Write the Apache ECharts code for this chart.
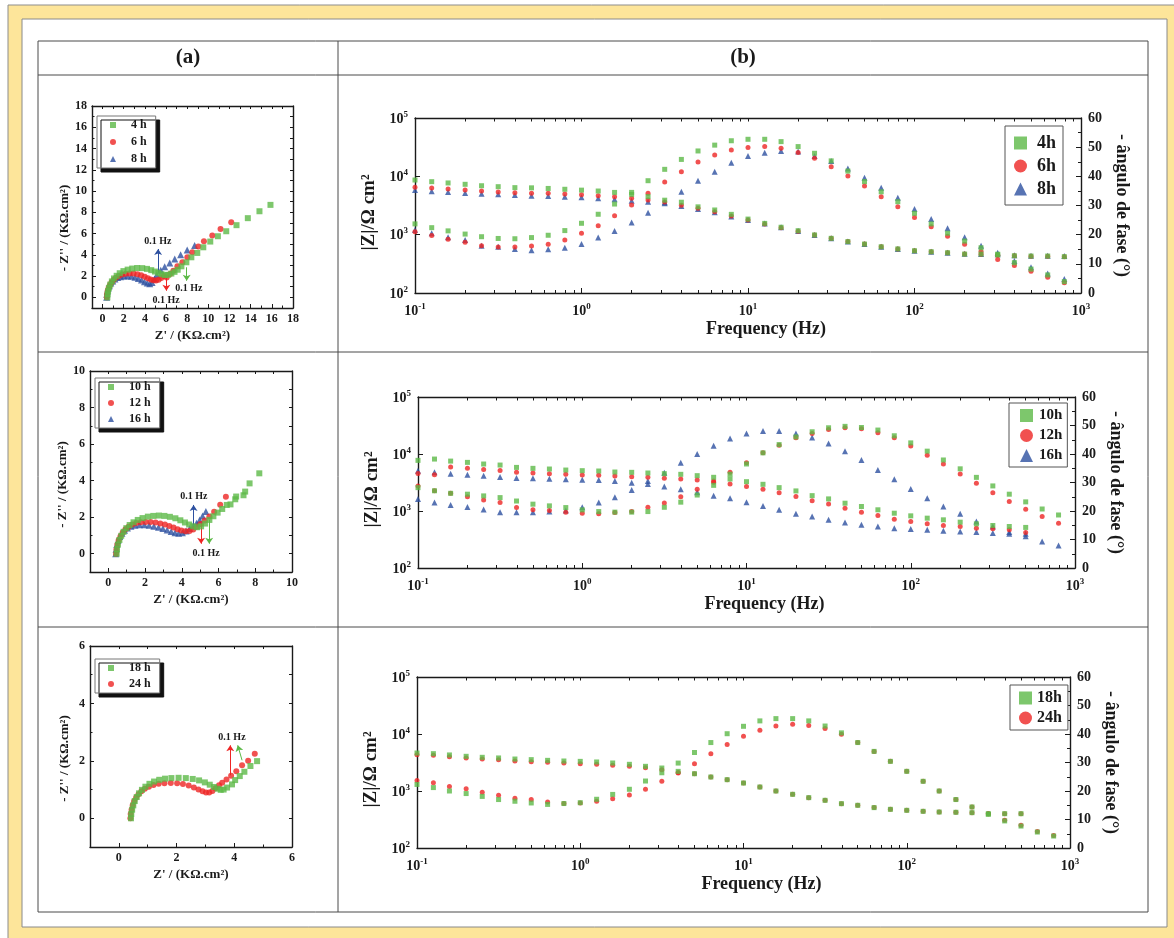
<!DOCTYPE html>
<html>
<head>
<meta charset="utf-8">
<title>EIS - Nyquist e Bode</title>
<script src="https://cdn.jsdelivr.net/npm/echarts@6/dist/echarts.min.js"></script>
<style>
html, body { margin: 0; padding: 0; background: #fff; }
#chart { width: 1174px; height: 938px; }
</style>
</head>
<body>
<div id="chart"></div>
<script>
// ---- data ----
const freqHz = [0.1, 0.126, 0.158, 0.2, 0.251, 0.316, 0.398, 0.501, 0.631, 0.794,
  1, 1.26, 1.58, 2, 2.51, 3.16, 3.98, 5.01, 6.31, 7.94,
  10, 12.6, 15.8, 20, 25.1, 31.6, 39.8, 50.1, 63.1, 79.4,
  100, 126, 158, 200, 251, 316, 398, 501, 631, 794]

// bode (b) row 1
const zMod4h = [8650, 8100, 7700, 7300, 6900, 6650, 6400, 6350, 6200, 6000, 5800, 5600, 5300, 4900, 4500, 3900, 3600, 3000, 2650, 2230, 1850, 1560, 1340, 1170, 990, 865, 760, 690, 620, 570, 530, 510, 490, 465, 465, 450, 435, 430, 430, 420]
const phase4h = [23.7, 22.4, 21.3, 20.2, 19.3, 18.7, 18.6, 19.0, 19.8, 21.4, 23.9, 27.0, 30.5, 34.5, 38.5, 42.4, 45.8, 48.7, 50.7, 52.2, 52.7, 52.7, 51.9, 50.2, 47.9, 45.3, 41.8, 38.2, 34.7, 31.3, 27.3, 23.7, 20.5, 17.8, 15.5, 13.3, 10.4, 8.2, 6.2, 3.9]
const zMod6h = [6480, 6310, 6070, 5830, 5610, 5390, 5250, 5110, 5110, 4980, 4850, 4660, 4480, 4200, 3930, 3630, 3180, 2830, 2480, 2090, 1780, 1520, 1320, 1140, 990, 865, 760, 690, 620, 570, 530, 510, 490, 465, 460, 445, 436, 425, 425, 420]
const phase6h = [21.0, 19.7, 18.4, 17.4, 16.2, 15.8, 15.8, 16.1, 16.7, 18.2, 20.5, 23.1, 26.5, 30.2, 34.2, 38.1, 41.6, 44.9, 47.3, 49.0, 49.9, 50.2, 49.6, 48.2, 46.2, 43.3, 40.1, 36.7, 33.0, 29.6, 25.9, 22.7, 19.5, 16.7, 14.2, 11.5, 9.4, 7.5, 5.4, 3.5]
const zMod8h = [5830, 5530, 5390, 5180, 5040, 4910, 4790, 4660, 4600, 4480, 4370, 4200, 4030, 3830, 3680, 3450, 3100, 2750, 2420, 2040, 1780, 1560, 1340, 1160, 990, 865, 760, 690, 620, 570, 530, 510, 490, 470, 465, 460, 445, 436, 436, 430]
const phase8h = [21.6, 20.5, 19.1, 18.2, 16.2, 15.9, 15.1, 14.7, 15.0, 15.5, 16.8, 19.0, 21.3, 24.2, 27.5, 31.1, 34.7, 38.5, 41.6, 44.7, 47.0, 48.1, 48.7, 48.5, 47.0, 45.3, 42.7, 39.5, 36.1, 32.7, 28.8, 25.4, 22.2, 19.1, 16.2, 13.8, 11.0, 8.8, 6.7, 4.8]

// bode (b) row 2
const zMod10h = [7730, 8150, 7510, 7130, 6670, 6400, 5820, 5600, 5450, 5230, 5100, 5030, 4830, 4770, 4640, 4520, 4400, 4170, 3900, 3640, 3270, 2940, 2570, 2250, 1860, 1630, 1370, 1200, 1050, 915, 822, 749, 700, 637, 596, 557, 535, 515, null, null]
const phase10h = [28.2, 27.1, 26.2, 25.9, 25.3, 24.7, 23.5, 22.4, 21.8, 21.2, 20.4, 19.8, 19.6, 19.6, 19.8, 21.3, 23.1, 25.6, 29.0, 32.9, 36.5, 40.4, 43.3, 46.0, 47.8, 49.2, 49.7, 49.3, 48.4, 46.4, 43.9, 41.0, 37.9, 34.8, 31.8, 28.8, 25.9, 23.2, 20.7, 18.6]
const zMod12h = [4570, 4330, 5900, 5600, 5370, 5160, 4770, 4640, 4520, 4400, 4280, 4220, 4110, 4000, 3900, 3740, 3640, 3500, 3190, 2980, 2680, 2400, 2100, 1790, 1520, 1330, 1120, 953, 833, 719, 655, 596, 557, 535, 500, 487, 468, 421, null, null]
const phase12h = [28.8, 27.1, 26.2, 25.0, 23.9, 23.0, 21.2, 20.4, 20.2, 19.6, 19.2, 19.0, 19.5, 19.8, 21.3, 22.8, 25.0, 27.6, 30.5, 33.6, 36.9, 40.4, 43.1, 45.7, 47.2, 48.6, 49.2, 48.9, 47.5, 45.7, 42.8, 39.6, 36.5, 33.0, 29.7, 26.4, 23.3, 20.6, 18.1, 15.7]
const zMod16h = [5100, 4770, 4520, 4340, 4170, 3950, 3790, 3740, 3690, 3590, 3550, 3500, 3360, 3140, 2980, 2680, 2400, 2130, 1860, 1670, 1430, 1230, 1050, 891, 800, 700, 629, 572, 535, 500, 481, 468, 450, 438, 426, 410, 398, 398, null, null]
const phase16h = [24.2, 23.0, 22.1, 21.4, 20.5, 19.6, 19.6, 19.6, 19.8, 20.2, 21.3, 23.0, 24.8, 27.4, 30.5, 33.4, 36.9, 40.0, 42.9, 45.4, 47.2, 48.1, 48.1, 47.2, 45.8, 43.7, 41.0, 37.9, 34.4, 31.1, 27.7, 24.5, 21.6, 19.0, 16.3, 14.6, 12.6, 11.1, 9.3, 7.9]

// bode (b) row 3
const zMod18h = [4640, 4520, 4290, 4060, 3900, 3800, 3640, 3550, 3450, 3360, 3310, 3230, 3100, 2940, 2710, 2530, 2210, 2010, 1760, 1580, 1380, 1175, 1000, 875, 765, 686, 600, 561, 511, 477, 458, 440, 428, 423, 417, 400, 400, 400, null, null]
const phase18h = [22.3, 21.2, 20.0, 19.1, 18.1, 17.0, 16.4, 15.8, 15.3, 15.6, 15.9, 17.1, 18.8, 20.6, 23.5, 26.4, 29.8, 33.5, 37.0, 40.1, 42.7, 44.6, 45.4, 45.4, 44.6, 42.8, 40.4, 37.0, 33.9, 30.4, 26.9, 23.4, 20.0, 17.0, 14.4, 11.8, 9.5, 7.7, 5.6, 4.2]
const zMod24h = [4340, 4220, 4000, 3800, 3640, 3550, 3360, 3270, 3190, 3100, 3020, 2940, 2820, 2710, 2570, 2370, 2120, 2010, 1760, 1580, 1380, 1175, 1000, 875, 765, 686, 600, 561, 511, 477, 458, 440, 428, 423, 417, 400, 400, 400, null, null]
const phase24h = [23.7, 22.9, 21.6, 20.8, 19.6, 18.5, 17.5, 17.0, 16.1, 15.6, 15.8, 16.4, 17.3, 18.6, 20.6, 23.4, 26.3, 29.6, 33.1, 36.3, 39.2, 41.3, 42.8, 43.4, 43.0, 41.9, 39.9, 37.0, 33.9, 30.4, 26.9, 23.4, 20.0, 17.0, 14.4, 12.0, 9.7, 8.0, 5.8, 4.4]

// nyquist (a), [Z', -Z''] in kOhm.cm2
const nyq4h = [[0.45,0],[0.47,0.3],[0.52,0.6],[0.6,0.9],[0.72,1.2],[0.88,1.5],[1.08,1.78],[1.33,2.03],[1.62,2.27],[1.97,2.47],[2.37,2.61],[2.8,2.71],[3.27,2.76],[3.75,2.75],[4.2,2.68],[4.6,2.56],[4.95,2.43],[5.27,2.3],[5.57,2.18],[5.88,2.1],[6.2,2.12],[6.5,2.24],[6.8,2.4],[7.1,2.6],[7.45,2.92],[7.92,3.3],[8.39,3.77],[8.95,4.18],[9.52,4.71],[10.18,5.25],[10.9,5.75],[11.69,6.22],[12.66,6.79],[13.73,7.45],[14.83,8.1],[15.87,8.7]]
const nyq6h = [[0.4,0],[0.42,0.3],[0.48,0.6],[0.57,0.88],[0.69,1.14],[0.84,1.4],[1.03,1.63],[1.26,1.85],[1.53,2.02],[1.84,2.14],[2.18,2.22],[2.55,2.25],[2.93,2.24],[3.3,2.18],[3.65,2.08],[3.98,1.95],[4.28,1.81],[4.55,1.69],[4.8,1.61],[5.05,1.58],[5.3,1.65],[5.55,1.82],[5.8,2.02],[6.06,1.88],[6.38,2.2],[6.69,2.51],[7.07,2.92],[7.54,3.3],[8.01,3.77],[8.48,4.24],[9.05,4.78],[9.58,5.28],[10.37,5.81],[11.15,6.44],[12.16,7.07]]
const nyq8h = [[0.38,0],[0.4,0.3],[0.45,0.58],[0.53,0.85],[0.64,1.1],[0.78,1.34],[0.96,1.55],[1.17,1.73],[1.42,1.86],[1.71,1.95],[2.03,2.0],[2.37,2.01],[2.72,1.98],[3.06,1.9],[3.38,1.78],[3.68,1.63],[3.96,1.48],[4.22,1.36],[4.46,1.29],[4.68,1.4],[4.9,1.72],[5.12,2.1],[5.5,2.55],[5.87,2.89],[6.35,3.24],[6.82,3.61],[7.38,4.02],[8.0,4.46],[8.7,4.87]]
const nyq10h = [[0.45,0],[0.47,0.25],[0.52,0.5],[0.6,0.75],[0.7,0.98],[0.83,1.2],[0.98,1.4],[1.16,1.57],[1.37,1.72],[1.6,1.85],[1.86,1.95],[2.15,2.03],[2.45,2.07],[2.75,2.09],[3.05,2.07],[3.35,2.02],[3.65,1.94],[3.92,1.83],[4.17,1.71],[4.4,1.6],[4.62,1.5],[4.83,1.45],[5.05,1.5],[5.27,1.65],[5.5,1.85],[5.72,2.05],[5.95,2.25],[6.2,2.45],[6.45,2.67],[6.65,2.7],[6.91,2.98],[6.96,3.13],[7.36,3.2],[7.45,3.4],[7.69,3.85],[8.22,4.4]]
const nyq12h = [[0.42,0],[0.44,0.25],[0.49,0.5],[0.56,0.74],[0.66,0.96],[0.78,1.16],[0.93,1.34],[1.1,1.48],[1.3,1.6],[1.52,1.68],[1.77,1.72],[2.03,1.74],[2.3,1.73],[2.57,1.71],[2.83,1.66],[3.08,1.6],[3.32,1.52],[3.55,1.43],[3.77,1.34],[3.98,1.27],[4.2,1.23],[4.42,1.25],[4.62,1.33],[4.82,1.47],[5.02,1.63],[5.25,1.82],[5.5,2.04],[5.76,2.3],[6.09,2.68],[6.4,3.12]]
const nyq16h = [[0.4,0],[0.42,0.25],[0.46,0.5],[0.53,0.73],[0.62,0.94],[0.74,1.12],[0.88,1.28],[1.04,1.41],[1.23,1.5],[1.45,1.56],[1.7,1.58],[1.96,1.58],[2.22,1.56],[2.48,1.51],[2.73,1.45],[2.97,1.38],[3.2,1.3],[3.42,1.22],[3.63,1.15],[3.83,1.12],[4.03,1.15],[4.23,1.25],[4.43,1.38],[4.62,1.52],[4.8,1.67],[4.97,1.85],[5.13,2.06],[5.31,2.31]]
const nyq18h = [[0.42,0],[0.43,0.15],[0.46,0.3],[0.5,0.45],[0.55,0.6],[0.62,0.74],[0.7,0.87],[0.8,0.99],[0.92,1.1],[1.06,1.2],[1.22,1.28],[1.4,1.34],[1.6,1.38],[1.82,1.4],[2.07,1.41],[2.32,1.4],[2.56,1.37],[2.78,1.32],[2.98,1.25],[3.15,1.17],[3.3,1.09],[3.42,1.03],[3.53,0.99],[3.63,1.0],[3.75,1.07],[3.92,1.18],[4.03,1.33],[4.19,1.47],[4.35,1.62],[4.56,1.82],[4.79,1.99]]
const nyq24h = [[0.4,0],[0.41,0.15],[0.44,0.3],[0.48,0.45],[0.53,0.59],[0.6,0.72],[0.68,0.84],[0.78,0.94],[0.9,1.03],[1.04,1.1],[1.2,1.16],[1.38,1.2],[1.58,1.22],[1.8,1.23],[2.02,1.22],[2.22,1.19],[2.42,1.14],[2.6,1.07],[2.76,1.0],[2.9,0.94],[3.02,0.9],[3.13,0.9],[3.24,0.95],[3.35,1.05],[3.47,1.15],[3.58,1.24],[3.73,1.35],[3.89,1.48],[4.07,1.64],[4.27,1.85],[4.48,2.0],[4.71,2.25]]

// "0.1 Hz" markers: arrow [from, to] and label spots
const hzArrows1 = { blue: [[5.25, 2.35], [5.25, 4.55]], red: [[6.03, 2.0], [6.03, 0.63]], green: [[7.95, 2.83], [7.95, 1.57]] }
const hzLabels1 = [[5.23, 5.28], [6.01, -0.25], [8.15, 0.85]]
const hzArrows2 = { blue: [[4.64, 1.58], [4.64, 2.67]], red: [[5.05, 1.67], [5.05, 0.55]], green: [[5.49, 1.85], [5.49, 0.55]] }
const hzLabels2 = [[4.66, 3.13], [5.32, 0.04]]
const hzArrows3 = { red: [[3.86, 1.5], [3.86, 2.54]], green: [[4.27, 2.02], [4.12, 2.54]] }
const hzLabels3 = [[3.92, 2.81]]

// tick values
const nyqMajor1 = [0, 2, 4, 6, 8, 10, 12, 14, 16, 18]
const nyqMinor1 = [-1, 1, 3, 5, 7, 9, 11, 13, 15, 17]
const nyqMajor2 = [0, 2, 4, 6, 8, 10]
const nyqMinor2 = [-1, 1, 3, 5, 7, 9]
const nyqMajor3 = [0, 2, 4, 6]
const nyqMinor3 = [-1, 1, 3, 5]
const decades = [0.1, 1, 10, 100, 1000]
const decadeSteps = [2, 3, 4, 5, 6, 7, 8, 9]

// ---- chart ----
const SERIF = '"Liberation Serif", "Times New Roman", serif'
const INK = '#1a1a1a'
const GREEN = '#5cb947'
const RED = '#ee2524'
const BLUE = '#2d50a0'

const logMinor = []
decades.slice(0, -1).forEach(d => decadeSteps.forEach(m => logMinor.push(Math.log10(d * m))))
const logAll = logMinor.concat(decades.map(d => Math.log10(d)))

const bold = (size) => ({ fontFamily: SERIF, fontWeight: 'bold', fontSize: size, color: INK })
const axisLineStyle = { color: INK, width: 1.4 }

const powRich = (size) => ({
  b: Object.assign(bold(size), { verticalAlign: 'bottom' }),
  s: Object.assign(bold(Math.round(size * 0.66)), { verticalAlign: 'bottom', padding: [0, 0, Math.round(size * 0.5), 0] })
})
const powLabel = (v) => '{b|10}{s|' + Math.round(Math.log10(v)) + '}'

const grids = [
  { left: 92, top: 106, width: 201, height: 202 },
  { left: 90, top: 371, width: 202, height: 201 },
  { left: 90, top: 646, width: 202, height: 201 },
  { left: 415, top: 118, width: 666, height: 175 },
  { left: 418, top: 397, width: 657, height: 171 },
  { left: 417, top: 677, width: 653, height: 171 }
].map(g => Object.assign({ containLabel: false, outerBoundsMode: 'none' }, g))

const xAxes = []
const yAxes = []
const series = []

const tickAxis = (base, ticks, len, showLine) => Object.assign({
  silent: true,
  axisLine: { show: showLine, onZero: false, lineStyle: axisLineStyle },
  axisTick: { show: true, inside: true, length: len, customValues: ticks, lineStyle: { color: INK, width: 1 } },
  axisLabel: { show: false },
  splitLine: { show: false }
}, base)

const pairs = (fs, vs) => fs.map((f, i) => [f, vs[i]]).filter(p => p[1] != null)

function arrowLine (pts, color) {
  return {
    silent: true,
    symbol: ['none', 'arrow'],
    symbolSize: 6,
    lineStyle: { color: color, width: 1, type: 'solid' },
    label: { show: false },
    emphasis: { disabled: true },
    data: [[{ coord: pts[0] }, { coord: pts[1] }]]
  }
}

function hzText (spots) {
  return {
    silent: true,
    symbol: 'rect',
    symbolSize: 1,
    itemStyle: { color: 'rgba(0,0,0,0)' },
    label: Object.assign({ show: true, position: 'inside', formatter: '0.1 Hz' }, bold(10)),
    data: spots.map(s => ({ coord: s }))
  }
}

function addNyquist (gi, max, major, minor, runs, arrows, labels, nameShift) {
  const all = major.concat(minor)
  const xi = xAxes.length
  const yi = yAxes.length
  xAxes.push({
    type: 'value', gridIndex: gi, min: -1, max: max, position: 'bottom',
    axisLine: { onZero: false, lineStyle: axisLineStyle },
    axisTick: { inside: true, length: 4, customValues: major, lineStyle: { color: INK, width: 1 } },
    axisLabel: Object.assign({ customValues: major, margin: 5 }, bold(12)),
    splitLine: { show: false },
    name: "Z' / (KΩ.cm²)", nameLocation: 'middle', nameGap: 21,
    nameTextStyle: bold(13)
  })
  xAxes.push(tickAxis({ type: 'value', gridIndex: gi, min: -1, max: max, position: 'bottom' }, minor, 2.5, false))
  xAxes.push(tickAxis({ type: 'value', gridIndex: gi, min: -1, max: max, position: 'top' }, all, 3, true))
  yAxes.push({
    type: 'value', gridIndex: gi, min: -1, max: max, position: 'left',
    axisLine: { onZero: false, lineStyle: axisLineStyle },
    axisTick: { inside: true, length: 4, customValues: major, lineStyle: { color: INK, width: 1 } },
    axisLabel: Object.assign({ customValues: major, margin: 5 }, bold(12)),
    splitLine: { show: false },
    name: "- Z'' / (KΩ.cm²)", nameLocation: 'middle', nameGap: 19, nameRotate: 90,
    nameTextStyle: Object.assign(bold(13), { padding: [0, nameShift, 0, 0] })
  })
  yAxes.push(tickAxis({ type: 'value', gridIndex: gi, min: -1, max: max, position: 'left' }, minor, 2.5, false))
  yAxes.push(tickAxis({ type: 'value', gridIndex: gi, min: -1, max: max, position: 'right' }, all, 3, true))
  runs.forEach((r, i) => {
    const s = {
      type: 'scatter', name: r.name, xAxisIndex: xi, yAxisIndex: yi,
      data: r.data, symbol: r.symbol, symbolSize: r.symbol === 'triangle' ? 7 : 6,
      itemStyle: { color: r.color }, z: 3 + runs.length - i
    }
    if (arrows[r.key]) s.markLine = arrowLine(arrows[r.key], r.color)
    if (i === 0) s.markPoint = hzText(labels)
    series.push(s)
  })
}

function addBode (gi, runs) {
  const xi = xAxes.length
  const yi = yAxes.length
  xAxes.push({
    type: 'log', logBase: 10, gridIndex: gi, min: 0.1, max: 1000, position: 'bottom',
    axisLine: { onZero: false, lineStyle: axisLineStyle },
    axisTick: { inside: true, length: 5, lineStyle: { color: INK, width: 1 } },
    axisLabel: { margin: 9, formatter: powLabel, rich: powRich(14) },
    splitLine: { show: false },
    name: 'Frequency (Hz)', nameLocation: 'middle', nameGap: 27,
    nameTextStyle: Object.assign(bold(18), { padding: [0, 0, 0, 36] })
  })
  xAxes.push(tickAxis({ type: 'value', gridIndex: gi, min: -1, max: 3, position: 'bottom' }, logMinor, 3, false))
  xAxes.push(tickAxis({ type: 'value', gridIndex: gi, min: -1, max: 3, position: 'top' }, logAll, 3.5, true))
  yAxes.push({
    type: 'log', logBase: 10, gridIndex: gi, min: 100, max: 100000, position: 'left',
    axisLine: { onZero: false, lineStyle: axisLineStyle },
    axisTick: { inside: true, length: 5, lineStyle: { color: INK, width: 1 } },
    axisLabel: { margin: 7, formatter: powLabel, rich: powRich(14) },
    splitLine: { show: false },
    name: '|Z|/Ω cm²', nameLocation: 'middle', nameGap: 34, nameRotate: 90,
    nameTextStyle: Object.assign(bold(19), { padding: [0, 14, 0, 0] })
  })
  yAxes.push({
    type: 'value', gridIndex: gi, min: 0, max: 60, interval: 10, position: 'right',
    axisLine: { onZero: false, lineStyle: axisLineStyle },
    axisTick: { inside: true, length: 5, lineStyle: { color: INK, width: 1 } },
    minorTick: { show: true, splitNumber: 2, length: 3, lineStyle: { color: INK, width: 1 } },
    axisLabel: Object.assign({ margin: 7 }, bold(14)),
    splitLine: { show: false },
    name: '- ângulo de fase (°)', nameLocation: 'middle', nameGap: 28, nameRotate: -90,
    nameTextStyle: bold(18)
  })
  runs.forEach((r, i) => {
    const common = { type: 'scatter', name: r.name, xAxisIndex: xi, symbol: r.symbol, symbolSize: r.symbol === 'triangle' ? 6 : 5, itemStyle: { color: r.color }, z: 3 + runs.length - i }
    series.push(Object.assign({ yAxisIndex: yi, data: pairs(freqHz, r.mod) }, common))
    series.push(Object.assign({ yAxisIndex: yi + 1, data: pairs(freqHz, r.phase) }, common))
  })
}

addNyquist(0, 18, nyqMajor1, nyqMinor1, [
  { name: '4 h', key: 'green', data: nyq4h, symbol: 'rect', color: GREEN },
  { name: '6 h', key: 'red', data: nyq6h, symbol: 'circle', color: RED },
  { name: '8 h', key: 'blue', data: nyq8h, symbol: 'triangle', color: BLUE }
], hzArrows1, hzLabels1, 42)
addNyquist(1, 10, nyqMajor2, nyqMinor2, [
  { name: '10 h', key: 'green', data: nyq10h, symbol: 'rect', color: GREEN },
  { name: '12 h', key: 'red', data: nyq12h, symbol: 'circle', color: RED },
  { name: '16 h', key: 'blue', data: nyq16h, symbol: 'triangle', color: BLUE }
], hzArrows2, hzLabels2, 26)
addNyquist(2, 6, nyqMajor3, nyqMinor3, [
  { name: '18 h', key: 'green', data: nyq18h, symbol: 'rect', color: GREEN },
  { name: '24 h', key: 'red', data: nyq24h, symbol: 'circle', color: RED }
], hzArrows3, hzLabels3, 24)

addBode(3, [
  { name: '4h', mod: zMod4h, phase: phase4h, symbol: 'rect', color: GREEN },
  { name: '6h', mod: zMod6h, phase: phase6h, symbol: 'circle', color: RED },
  { name: '8h', mod: zMod8h, phase: phase8h, symbol: 'triangle', color: BLUE }
])
addBode(4, [
  { name: '10h', mod: zMod10h, phase: phase10h, symbol: 'rect', color: GREEN },
  { name: '12h', mod: zMod12h, phase: phase12h, symbol: 'circle', color: RED },
  { name: '16h', mod: zMod16h, phase: phase16h, symbol: 'triangle', color: BLUE }
])
addBode(5, [
  { name: '18h', mod: zMod18h, phase: phase18h, symbol: 'rect', color: GREEN },
  { name: '24h', mod: zMod24h, phase: phase24h, symbol: 'circle', color: RED }
])

const nyqLegend = (names, left, top, gap) => ({
  data: names, orient: 'vertical', left: left, top: top, selectedMode: false,
  itemWidth: 6, itemHeight: 6, itemGap: gap, padding: [3, 9, 3, 13],
  textStyle: Object.assign(bold(12), { lineHeight: 12, padding: [0, 0, 0, 10] }),
  backgroundColor: '#fff', borderColor: '#777', borderWidth: 1,
  shadowColor: '#111', shadowBlur: 0, shadowOffsetX: 4, shadowOffsetY: 4
})
const bodeLegend = (names, left, top, size, gap, pad, textPad) => ({
  data: names, orient: 'vertical', left: left, top: top, selectedMode: false,
  itemWidth: 13, itemHeight: 13, itemGap: gap, padding: pad,
  textStyle: Object.assign(bold(size), { lineHeight: size - 1, padding: [0, 0, 0, textPad] }),
  backgroundColor: '#fff', borderColor: '#555', borderWidth: 1
})

const tableLine = (x1, y1, x2, y2) => ({
  type: 'line', silent: true, z: -5,
  shape: { x1: x1, y1: y1, x2: x2, y2: y2 },
  style: { stroke: '#4a4a4a', lineWidth: 1 }
})

const option = {
  animation: false,
  textStyle: { fontFamily: SERIF },
  grid: grids,
  xAxis: xAxes,
  yAxis: yAxes,
  series: series,
  legend: [
    nyqLegend(['4 h', '6 h', '8 h'], 97, 116, 5),
    nyqLegend(['10 h', '12 h', '16 h'], 95, 378, 4),
    nyqLegend(['18 h', '24 h'], 95, 659, 4),
    bodeLegend(['4h', '6h', '8h'], 1005, 126, 18, 5, [8, 7, 7, 9], 5),
    bodeLegend(['10h', '12h', '16h'], 1009, 403, 15, 5, [5, 5, 4, 11], 1),
    bodeLegend(['18h', '24h'], 1010, 685, 16, 4, [5, 6, 4, 9], 0)
  ],
  graphic: [
    { type: 'rect', silent: true, z: -20, shape: { x: 8, y: 5, width: 1175, height: 945 }, style: { fill: '#fde59a', stroke: '#8d8d8d', lineWidth: 1 } },
    { type: 'rect', silent: true, z: -19, shape: { x: 22, y: 19, width: 1145, height: 908 }, style: { fill: '#ffffff', stroke: '#8a8a8a', lineWidth: 1 } },
    { type: 'rect', silent: true, z: -5, shape: { x: 38, y: 41, width: 1110, height: 871 }, style: { fill: 'none', stroke: '#4a4a4a', lineWidth: 1 } },
    tableLine(38, 75, 1148, 75),
    tableLine(38, 352, 1148, 352),
    tableLine(38, 627, 1148, 627),
    tableLine(338, 41, 338, 912),
    { type: 'text', silent: true, x: 188, y: 58, style: Object.assign({ text: '(a)', align: 'center', verticalAlign: 'middle' }, { font: 'bold 21px ' + SERIF, fill: INK }) },
    { type: 'text', silent: true, x: 743, y: 58, style: Object.assign({ text: '(b)', align: 'center', verticalAlign: 'middle' }, { font: 'bold 21px ' + SERIF, fill: INK }) }
  ]
}

const chart = echarts.init(document.getElementById('chart'))
chart.setOption(option)
window.addEventListener('resize', () => chart.resize())
</script>
</body>
</html>
